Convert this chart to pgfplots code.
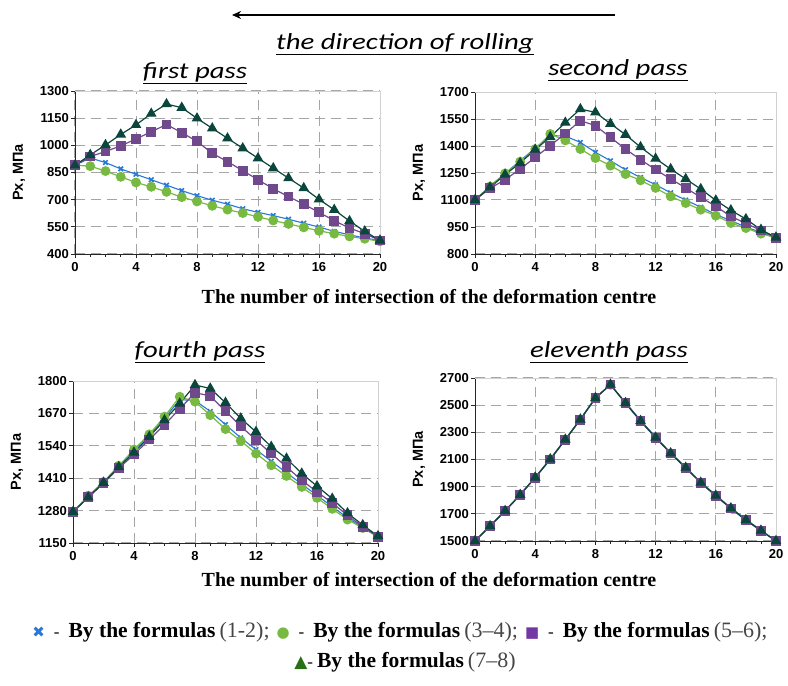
\documentclass[border=0pt]{standalone}
\usepackage{pgfplots}
\pgfplotsset{compat=1.18}
\usepackage{pgfplotstable}
\usepackage{fontspec}
\setmainfont{Liberation Serif}
\newfontfamily\arial{Liberation Sans}
\newfontfamily\calib{Carlito}
\newfontfamily\dejavu{DejaVu Sans}
\usetikzlibrary{arrows.meta}

\definecolor{cblue}{RGB}{40,120,215}
\definecolor{cgreen}{RGB}{120,185,65}
\definecolor{cpurple}{RGB}{112,72,140}
\definecolor{cteal}{RGB}{10,70,60}
\definecolor{legtri}{RGB}{40,110,20}
\definecolor{legsq}{RGB}{115,55,165}
\definecolor{gridc}{RGB}{165,165,165}
\definecolor{paren}{RGB}{70,70,70}

\pgfplotstableread{
x a b c d
0 890 890 890 890
1 930 885 938 947
2 905 858 966 1002
3 870 826 997 1060
4 840 795 1035 1113
5 810 771 1075 1175
6 780 743 1115 1228
7 750 714 1070 1208
8 722 690 1022 1149
9 697 666 956 1094
10 675 645 910 1039
11 650 626 860 984
12 630 605 810 929
13 612 585 760 874
14 592 566 717 819
15 570 547 675 764
16 549 528 630 702
17 525 512 584 644
18 506 497 543 582
19 488 484 512 525
20 475 470 475 475
}\passone

\pgfplotstableread{
x a b c d
0 1100 1100 1100 1100
1 1178 1175 1165 1170
2 1248 1248 1213 1241
3 1318 1313 1272 1306
4 1388 1383 1337 1380
5 1458 1467 1402 1450
6 1455 1431 1469 1530
7 1420 1383 1541 1605
8 1365 1333 1513 1587
9 1318 1291 1448 1524
10 1268 1244 1383 1463
11 1225 1209 1324 1394
12 1185 1167 1269 1330
13 1140 1120 1217 1272
14 1100 1083 1167 1217
15 1060 1046 1115 1161
16 1020 1013 1065 1098
17 985 972 1009 1043
18 950 944 970 994
19 920 913 931 935
20 890 890 890 892
}\passtwo

\pgfplotstableread{
x a b c d
0 1275 1275 1275 1275
1 1338 1340 1333 1333
2 1393 1395 1390 1392
3 1458 1460 1450 1455
4 1522 1525 1505 1513
5 1582 1586 1565 1576
6 1650 1657 1625 1643
7 1725 1737 1688 1710
8 1722 1717 1753 1784
9 1678 1663 1740 1770
10 1625 1607 1679 1713
11 1572 1560 1619 1650
12 1525 1509 1563 1596
13 1478 1462 1509 1536
14 1432 1419 1455 1489
15 1386 1375 1402 1429
16 1341 1331 1355 1378
17 1296 1287 1311 1328
18 1251 1244 1261 1270
19 1212 1210 1215 1222
20 1175 1175 1175 1178
}\passfour

\pgfplotstableread{
x a b c d
0 1500 1500 1500 1500
1 1612 1610 1608 1610
2 1724 1722 1720 1722
3 1842 1840 1838 1840
4 1970 1968 1966 1968
5 2104 2102 2100 2102
6 2249 2247 2245 2247
7 2397 2395 2393 2395
8 2555 2553 2551 2553
9 2648 2650 2652 2652
10 2520 2516 2514 2516
11 2388 2384 2382 2384
12 2266 2262 2260 2262
13 2150 2146 2144 2146
14 2044 2040 2038 2040
15 1934 1930 1928 1930
16 1838 1834 1832 1834
17 1745 1741 1739 1741
18 1659 1655 1653 1655
19 1580 1577 1575 1577
20 1500 1500 1500 1500
}\passeleven

\pgfplotsset{
  pass/.style={
    scale only axis, anchor=south west, clip=false,
    xmin=0, xmax=20, xtick={0,4,...,20}, minor x tick num=3,
    axis lines=left, axis line style={-, black!85, line width=0.9pt},
    tick align=outside, major tick length=4pt, minor tick length=3pt,
    tick style={black!85, line width=0.8pt},
    xmajorgrids, ymajorgrids,
    major grid style={gridc, dash pattern=on 10pt off 6pt, line width=1pt},
    scaled ticks=false,
    /pgf/number format/1000 sep={},
    /pgf/number format/assume math mode=true,
    ticklabel style={font=\arial\bfseries\fontsize{13}{13}\selectfont},
    xticklabel style={yshift=-1pt},
    yticklabel style={xshift=0pt, inner sep=2pt},
    ylabel={Px, МПа},
    every axis y label/.style={at={(rel axis cs:0,0.5)}, xshift=-56pt, rotate=90, anchor=center,
      font=\arial\bfseries\fontsize{14.5}{14.5}\selectfont},
  },
  sA/.style={cblue, line width=1.1pt, mark=x, mark size=3.2pt, mark options={solid, line width=1.6pt}},
  sB/.style={cgreen, line width=1.2pt, mark=*, mark size=4.3pt},
  sC/.style={cpurple, line width=1.2pt, mark=square*, mark size=4.3pt},
  sD/.style={cteal, line width=1.2pt, mark=triangle*, mark size=5pt},
}

\newcommand{\boxlines}{\draw[gray!35, line width=0.8pt] (rel axis cs:0,1) -- (rel axis cs:1,1) -- (rel axis cs:1,0);}
\newcommand{\ptitle}[1]{\scalebox{1.25}[1]{\calib\itshape\fontsize{23}{26}\selectfont\underline{#1}}}
\newcommand{\xlab}{\bfseries\fontsize{20}{22}\selectfont The number of intersection of the deformation centre}
\newcommand{\legtext}[1]{{\bfseries\fontsize{21.5}{24}\selectfont By the formulas}\hspace{4pt}{\color{paren}\fontsize{22}{24}\selectfont#1}}
\newcommand{\legitem}[3]{{\dejavu\fontsize{15}{15}\selectfont\color{#1}#2}\hspace{9pt}{\fontsize{17}{20}\selectfont -}\hspace{9pt}\legtext{#3}}

\begin{document}
\begin{tikzpicture}
\useasboundingbox (0pt,0pt) rectangle (788pt,686pt);

% arrow and direction
\draw[line width=2pt, -{Stealth[length=9pt,width=8pt]}] (615pt,671pt) -- (232pt,671pt);
\node at (405pt,642pt) {\ptitle{the direction of rolling}};

% titles
\node at (195pt,613pt) {\ptitle{first pass}};
\node at (618pt,616pt) {\ptitle{second pass}};
\node at (200pt,334pt) {\ptitle{fourth pass}};
\node at (609pt,334pt) {\ptitle{eleventh pass}};

% x labels
\node at (429pt,389pt) {\xlab};
\node at (429pt,106pt) {\xlab};

\begin{axis}[pass, at={(75pt,432pt)}, width=305pt, height=163pt,
  ymin=400, ymax=1300, ytick={400,550,...,1300}]
\boxlines
\addplot[sA] table[x=x,y=a]{\passone};
\addplot[sB] table[x=x,y=b]{\passone};
\addplot[sC] table[x=x,y=c]{\passone};
\addplot[sD] table[x=x,y=d]{\passone};
\end{axis}

\begin{axis}[pass, at={(475pt,432pt)}, width=301pt, height=162pt,
  ymin=800, ymax=1700, ytick={800,950,...,1700}]
\boxlines
\addplot[sA] table[x=x,y=a]{\passtwo};
\addplot[sB] table[x=x,y=b]{\passtwo};
\addplot[sC] table[x=x,y=c]{\passtwo};
\addplot[sD] table[x=x,y=d]{\passtwo};
\end{axis}

\begin{axis}[pass, at={(73pt,143pt)}, width=305pt, height=162pt,
  ymin=1150, ymax=1800, ytick={1150,1280,...,1800}]
\boxlines
\addplot[sA] table[x=x,y=a]{\passfour};
\addplot[sB] table[x=x,y=b]{\passfour};
\addplot[sC] table[x=x,y=c]{\passfour};
\addplot[sD] table[x=x,y=d]{\passfour};
\end{axis}

\begin{axis}[pass, at={(475pt,145pt)}, width=301pt, height=163pt,
  ymin=1500, ymax=2700, ytick={1500,1700,...,2700}]
\boxlines
\addplot[sA] table[x=x,y=a]{\passeleven};
\addplot[sB] table[x=x,y=b]{\passeleven};
\addplot[sC] table[x=x,y=c]{\passeleven};
\addplot[sD] table[x=x,y=d]{\passeleven};
\end{axis}

% legend
\node at (400pt,54pt) {%
  \legitem{cblue}{✖}{(1-2);}\hspace{7pt}%
  \legitem{cgreen}{●}{(3–4);}\hspace{7pt}%
  \legitem{legsq}{■}{(5–6);}};
\node at (405pt,24pt) {%
  {\dejavu\fontsize{17}{17}\selectfont\color{legtri}▲}{\fontsize{17}{20}\selectfont -}\hspace{4pt}\legtext{(7–8)}};
\end{tikzpicture}
\end{document}
